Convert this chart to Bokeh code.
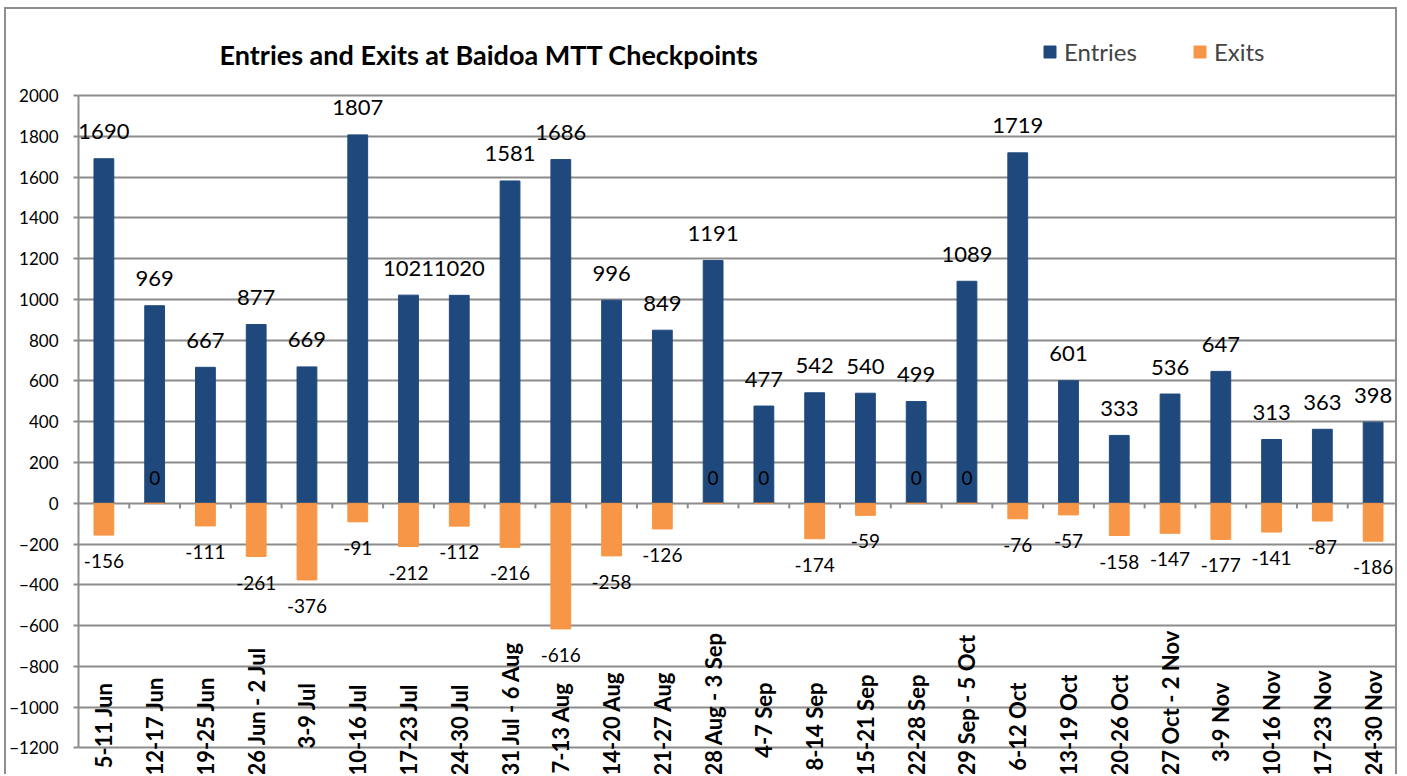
import math
from bokeh.plotting import figure
from bokeh.models import ColumnDataSource, FactorRange, FixedTicker, Range1d, Label
from bokeh.core.properties import value
from bokeh.embed import file_html
from bokeh.resources import INLINE

# ---- data ----
categories = ["5-11 Jun", "12-17 Jun", "19-25 Jun", "26 Jun - 2 Jul", "3-9 Jul",
              "10-16 Jul", "17-23 Jul", "24-30 Jul", "31 Jul - 6 Aug", "7-13 Aug",
              "14-20 Aug", "21-27 Aug", "28 Aug - 3 Sep", "4-7 Sep", "8-14 Sep",
              "15-21 Sep", "22-28 Sep", "29 Sep - 5 Oct", "6-12 Oct", "13-19 Oct",
              "20-26 Oct", "27 Oct - 2 Nov", "3-9 Nov", "10-16 Nov", "17-23 Nov",
              "24-30 Nov"]
entries = [1690, 969, 667, 877, 669, 1807, 1021, 1020, 1581, 1686, 996, 849, 1191,
           477, 542, 540, 499, 1089, 1719, 601, 333, 536, 647, 313, 363, 398]
exits = [-156, 0, -111, -261, -376, -91, -212, -112, -216, -616, -258, -126, 0,
         0, -174, -59, 0, 0, -76, -57, -158, -147, -177, -141, -87, -186]
y_ticks = [-1200, -1000, -800, -600, -400, -200, 0, 200, 400, 600, 800, 1000,
           1200, 1400, 1600, 1800, 2000]
title_text = "Entries and Exits at Baidoa MTT Checkpoints"

# ---- styles ----
FONT = "Lato"
ENTRY_COLOR = "#1F497D"
EXIT_COLOR = "#F79646"
GRID = "#8c8c8c"
BORDER = "2px solid #8e8e8e"

src = ColumnDataSource(dict(
    cat=categories,
    entries=entries,
    exits=exits,
    entries_txt=[str(v) for v in entries],
    exits_txt=[str(v) for v in exits],
    exits_off=[26 if v < 0 else -25 for v in exits],
))

p = figure(x_range=FactorRange(factors=categories), y_range=Range1d(-1340, 2422),
           width=1393, height=767, output_backend="svg", toolbar_location=None,
           min_border_left=72, min_border_right=1, min_border_top=0,
           min_border_bottom=0)
p.styles = {"border-top": BORDER, "border-left": BORDER, "border-right": BORDER,
            "margin-left": "4px", "margin-top": "7px"}

p.outline_line_color = None
p.xaxis.visible = False
p.xgrid.visible = False

p.yaxis.ticker = FixedTicker(ticks=y_ticks)
p.yaxis.bounds = (y_ticks[0], y_ticks[-1])
p.yaxis.major_label_text_font = FONT
p.yaxis.major_label_text_font_size = "17px"
p.yaxis.major_label_text_color = "black"
p.yaxis.axis_line_color = GRID
p.yaxis.axis_line_width = 2
p.yaxis.major_tick_line_color = GRID
p.yaxis.major_tick_line_width = 2
p.yaxis.major_tick_out = 5
p.yaxis.major_tick_in = 0
p.yaxis.minor_tick_line_color = None
p.yaxis.major_label_standoff = 15
p.ygrid.grid_line_color = GRID
p.ygrid.grid_line_width = 2

# tick marks on the zero line between categories
bounds = list(range(1, len(categories)))
p.segment(x0=bounds, y0=[0] * len(bounds), x1=bounds, y1=[-25] * len(bounds),
          line_color=GRID, line_width=2)

p.vbar(x="cat", top="entries", bottom=0, width=0.39, color=ENTRY_COLOR,
       source=src, legend_label="Entries")
p.vbar(x="cat", top="exits", bottom=0, width=0.39, color=EXIT_COLOR,
       source=src, legend_label="Exits")

p.text(x="cat", y="entries", text="entries_txt", source=src, y_offset=-27,
       text_align="center", text_baseline="middle", text_font=value(FONT),
       text_font_size="22px", text_color="black")
p.text(x="cat", y="exits", text="exits_txt", source=src, y_offset="exits_off",
       text_align="center", text_baseline="middle", text_font=value(FONT),
       text_font_size="19px", text_color="black")

# category labels, rotated, inside the lower part of the plot
short = [c for c in categories if len(c) <= 8]
long_ = [c for c in categories if len(c) > 8]
p.text(x=short, y=[-879] * len(short), text=short, angle=math.pi / 2,
       text_align="right", text_baseline="middle", text_font=value(FONT),
       text_font_style="bold", text_font_size="22px", text_color="black")
p.text(x=long_, y=[-1335] * len(long_), text=long_, angle=math.pi / 2,
       text_align="left", text_baseline="middle", text_font=value(FONT),
       text_font_style="bold", text_font_size="22px", text_color="black")

p.add_layout(Label(x=141, y=722, x_units="screen", y_units="screen",
                   text=title_text, text_font=FONT, text_font_size="27px",
                   text_font_style="bold", text_color="black",
                   text_baseline="alphabetic"))

p.legend.location = (964, 710)
p.legend.orientation = "horizontal"
p.legend.background_fill_alpha = 0
p.legend.border_line_color = None
p.legend.padding = 0
p.legend.margin = 0
p.legend.spacing = 55
p.legend.glyph_width = 15
p.legend.glyph_height = 15
p.legend.label_standoff = 7
p.legend.label_text_font = FONT
p.legend.label_text_font_size = "24px"

open("out.html", "w").write(file_html(p, INLINE))
